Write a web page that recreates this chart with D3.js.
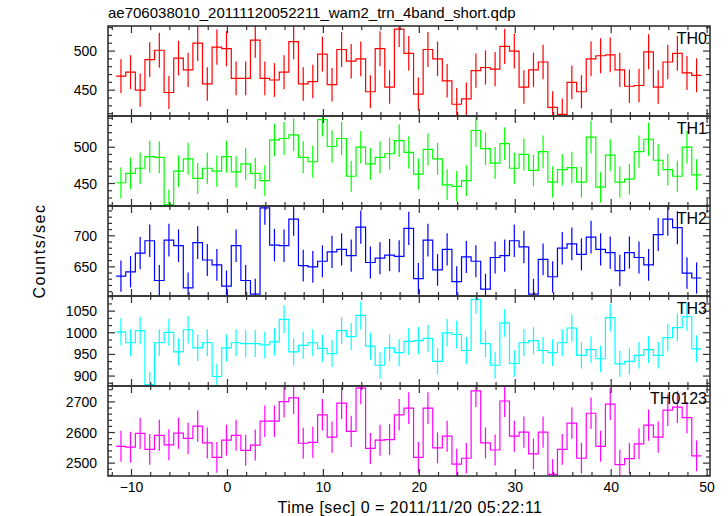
<!DOCTYPE html>
<html><head><meta charset="utf-8">
<script src="https://cdn.jsdelivr.net/npm/d3@7"></script>
<style>
html,body{margin:0;padding:0;background:#fff;}
svg{display:block;font-family:"Liberation Sans",Arial,Helvetica,sans-serif;}
</style></head>
<body>
<script>
// ---- data ----
const title = "ae706038010_20111120052211_wam2_trn_4band_short.qdp";
const xLabel = "Time [sec] 0 = 2011/11/20 05:22:11";
const yLabel = "Counts/sec";
const binWidth = 1.0;
const time = [-11.1,-10.1,-9.1,-8.1,-7.1,-6.1,-5.1,-4.1,-3.1,-2.1,-1.1,-0.1,0.9,1.9,2.9,3.9,4.9,5.9,6.9,7.9,8.9,9.9,10.9,11.9,12.9,13.9,14.9,15.9,16.9,17.9,18.9,19.9,20.9,21.9,22.9,23.9,24.9,25.9,26.9,27.9,28.9,29.9,30.9,31.9,32.9,33.9,34.9,35.9,36.9,37.9,38.9,39.9,40.9,41.9,42.9,43.9,44.9,45.9,46.9,47.9,48.9];
const th0 = [468,473,450,489,501,447,491,476,510,458,505,503,465,465,514,465,463,473,512,458,461,496,457,502,487,490,448,503,454,528,497,445,502,490,462,432,439,475,479,477,506,500,454,476,486,428,419,460,448,490,494,495,476,455,456,499,454,486,497,472,469];
const th1 = [451,464,471,487,486,421,467,484,457,471,467,487,466,477,464,454,510,512,517,486,480,538,501,512,460,500,477,486,491,509,493,463,497,484,448,446,454,523,498,478,505,471,490,468,494,452,469,472,452,514,445,489,452,456,494,511,482,469,460,500,462];
const th2 = [635,642,672,692,628,693,684,616,689,661,653,619,684,628,606,745,685,684,727,652,650,659,674,678,668,714,657,664,669,667,712,631,693,645,678,626,666,659,614,665,668,692,682,606,662,634,680,687,670,698,678,673,644,673,665,653,702,727,713,640,632];
const th3 = [1002,977,1005,880,977,1001,956,1007,965,977,899,965,977,975,975,972,979,1031,956,971,977,964,952,1005,991,1040,969,925,965,954,980,982,987,934,1000,996,959,1077,975,925,1023,929,977,982,959,954,977,1011,948,961,940,1035,928,934,948,961,948,989,1012,1037,963];
const th0123 = [2555,2552,2597,2545,2591,2560,2598,2581,2621,2566,2519,2575,2591,2542,2559,2637,2637,2701,2713,2565,2568,2658,2585,2696,2604,2745,2548,2575,2577,2658,2680,2519,2680,2550,2588,2497,2516,2736,2566,2543,2703,2588,2601,2530,2601,2463,2545,2631,2516,2663,2555,2693,2495,2515,2563,2624,2585,2673,2683,2649,2524];
const seriesNames = ["TH0","TH1","TH2","TH3","TH0123"];
const seriesValues = [th0, th1, th2, th3, th0123];
const seriesColors = ["#ff0000","#00ff00","#0000ff","#00ffff","#ff00ff"];
const yDomains = [[417,532],[419,543],[603,748],[877,1085],[2458,2752]];
const yMajorTicks = [[450,500],[450,500],[650,700],[900,950,1000,1050],[2500,2600,2700]];
const yMinorStep = [10,10,10,50/3,20];
const xDomain = [-12.45, 50.3];
const xMajorTicks = [-10,0,10,20,30,40,50];
const xMinorStep = 2;

// ---- layout ----
const W = 728, H = 516;
const left = 108, right = 710, top0 = 26, panelH = 90;
const svg = d3.select("body").append("svg").attr("width", W).attr("height", H);
const x = d3.scaleLinear().domain(xDomain).range([left, right]);
const frameColor = "#333";

svg.append("text").attr("x", 108).attr("y", 18).attr("font-size", 15).attr("fill", "#000").text(title);

const xMinor = d3.range(-12, 50.01, xMinorStep).filter(v => !xMajorTicks.includes(v));

seriesValues.forEach((vals, p) => {
  const y0 = top0 + p * panelH, y1 = y0 + panelH;
  const y = d3.scaleLinear().domain(yDomains[p]).range([y1, y0]);
  const g = svg.append("g");
  const clipId = "clip" + p;
  svg.append("clipPath").attr("id", clipId).append("rect")
    .attr("x", left).attr("y", y0).attr("width", right - left).attr("height", panelH);
  const dg = g.append("g").attr("clip-path", `url(#${clipId})`);
  // step line
  const pts = [];
  time.forEach((t, i) => { pts.push([t - binWidth/2, vals[i]]); pts.push([t + binWidth/2, vals[i]]); });
  dg.append("path").attr("d", d3.line().x(d => x(d[0])).y(d => y(d[1]))(pts))
    .attr("fill", "none").attr("stroke", seriesColors[p]).attr("stroke-width", 1.2);
  // error bars (Poisson)
  dg.selectAll("line.err").data(time).enter().append("line")
    .attr("x1", t => x(t)).attr("x2", t => x(t))
    .attr("y1", (t, i) => y(vals[i] - Math.sqrt(vals[i] * binWidth) / binWidth))
    .attr("y2", (t, i) => y(vals[i] + Math.sqrt(vals[i] * binWidth) / binWidth))
    .attr("stroke", seriesColors[p]).attr("stroke-width", 1.2);
  // x ticks top and bottom
  const tk = g.append("g").attr("stroke", frameColor).attr("stroke-width", 1.2);
  xMajorTicks.forEach(v => {
    tk.append("line").attr("x1", x(v)).attr("x2", x(v)).attr("y1", y1).attr("y2", y1 - 7);
    tk.append("line").attr("x1", x(v)).attr("x2", x(v)).attr("y1", y0).attr("y2", y0 + 7);
  });
  xMinor.forEach(v => {
    tk.append("line").attr("x1", x(v)).attr("x2", x(v)).attr("y1", y1).attr("y2", y1 - 4);
    tk.append("line").attr("x1", x(v)).attr("x2", x(v)).attr("y1", y0).attr("y2", y0 + 4);
  });
  // y ticks
  const [d0, d1] = yDomains[p];
  const st = yMinorStep[p];
  for (let v = Math.ceil(d0 / st) * st; v <= d1; v += st) {
    const isMaj = yMajorTicks[p].some(m => Math.abs(m - v) < 1e-6);
    if (isMaj) continue;
    tk.append("line").attr("x1", left).attr("x2", left + 4).attr("y1", y(v)).attr("y2", y(v));
    tk.append("line").attr("x1", right).attr("x2", right - 4).attr("y1", y(v)).attr("y2", y(v));
  }
  yMajorTicks[p].forEach(v => {
    tk.append("line").attr("x1", left).attr("x2", left + 7).attr("y1", y(v)).attr("y2", y(v));
    tk.append("line").attr("x1", right).attr("x2", right - 7).attr("y1", y(v)).attr("y2", y(v));
    g.append("text").attr("x", 97).attr("y", y(v) + 5).attr("text-anchor", "end")
      .attr("font-size", 14).attr("fill", "#000").text(v);
  });
  // frame
  g.append("rect").attr("x", left).attr("y", y0).attr("width", right - left).attr("height", panelH)
    .attr("fill", "none").attr("stroke", frameColor).attr("stroke-width", 1.6);
  // panel label
  g.append("text").attr("x", right - 3).attr("y", y0 + 18).attr("text-anchor", "end")
    .attr("font-size", 16).attr("fill", "#000").text(seriesNames[p]);
});

// x tick labels
const bottom = top0 + panelH * seriesValues.length;
xMajorTicks.forEach(v => {
  svg.append("text").attr("x", x(v)).attr("y", bottom + 16).attr("text-anchor", "middle")
    .attr("font-size", 14).attr("fill", "#000").text(v < 0 ? "\u2212" + Math.abs(v) : v);
});
svg.append("text").attr("x", 410).attr("y", bottom + 37).attr("text-anchor", "middle")
  .attr("font-size", 16).attr("letter-spacing", 0.5).attr("fill", "#000").text(xLabel);
svg.append("text").attr("transform", `translate(45,${top0 + panelH * 2.5}) rotate(-90)`)
  .attr("text-anchor", "middle").attr("font-size", 16).attr("letter-spacing", 1.5).attr("fill", "#000").text(yLabel);
</script>
</body></html>
